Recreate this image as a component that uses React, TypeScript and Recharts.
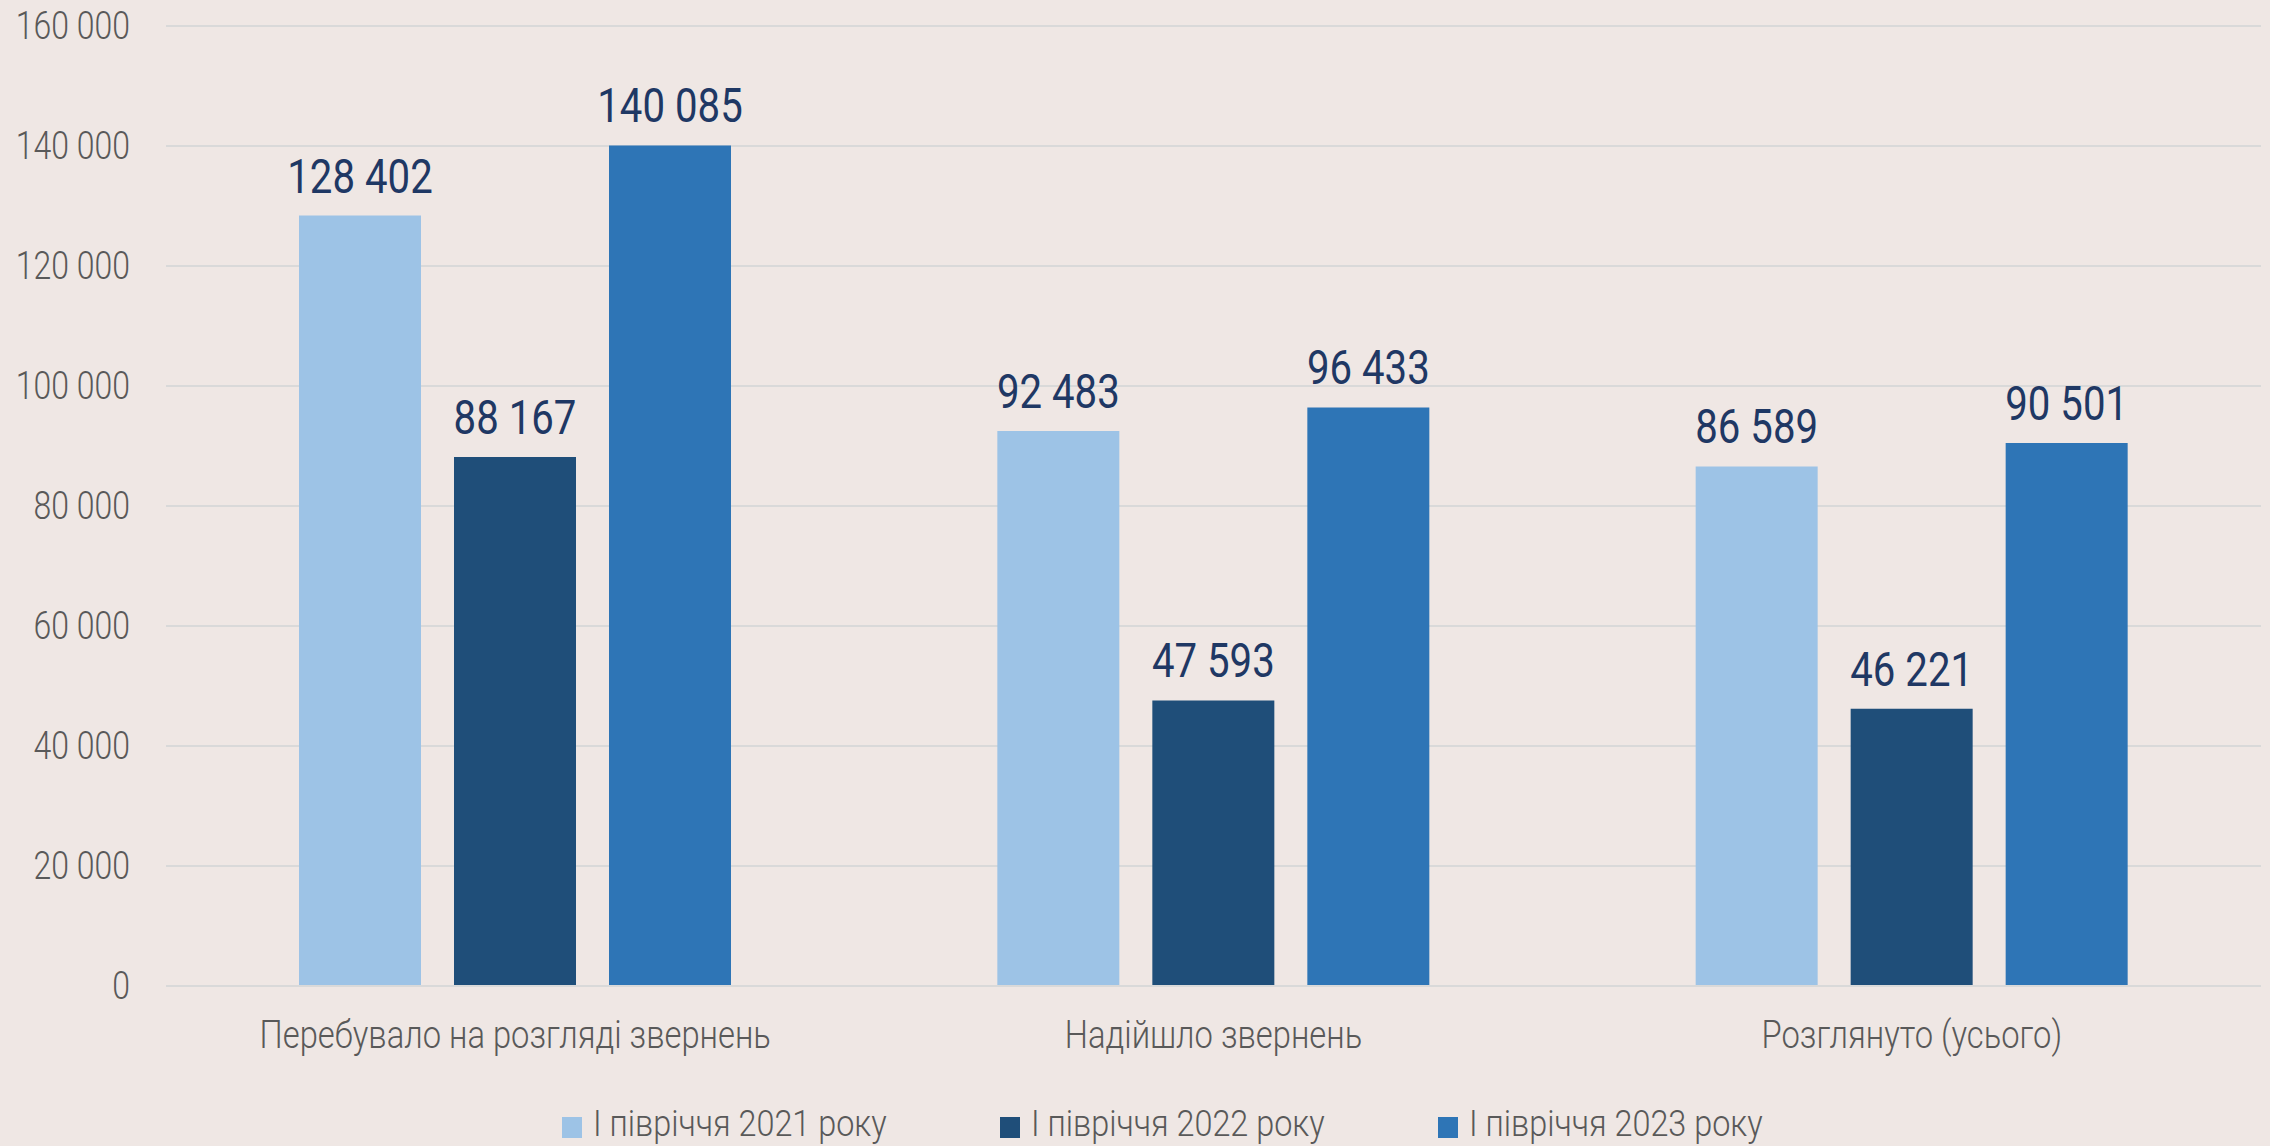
import { BarChart, Bar, XAxis, YAxis, CartesianGrid, Legend, LabelList } from 'recharts';

const categories = ['Перебувало на розгляді звернень', 'Надійшло звернень', 'Розглянуто (усього)'];
const h2021 = [128402, 92483, 86589];
const h2022 = [88167, 47593, 46221];
const h2023 = [140085, 96433, 90501];
const yTicks = [0, 20000, 40000, 60000, 80000, 100000, 120000, 140000, 160000];

const seriesNames = ['І півріччя 2021 року', 'І півріччя 2022 року', 'І півріччя 2023 року'];
const seriesColors = ['#9DC3E6', '#1F4E79', '#2E75B6'];

const data = categories.map((name, i) => ({
  name,
  h2021: h2021[i],
  h2022: h2022[i],
  h2023: h2023[i],
}));

const fmt = (v: number) => String(v).replace(/\B(?=(\d{3})+(?!\d))/g, ' ');

const FONT = 'Roboto, "Noto Sans", sans-serif';

const YTick = (props: any) => {
  const { x, y, payload } = props;
  return (
    <text
      transform={`translate(${x},${y}) scale(0.82,1)`}
      textAnchor="end"
      dominantBaseline="central"
      fill="#595959"
      fontSize={39}
      fontWeight={300}
      fontFamily={FONT}
    >
      {fmt(payload.value)}
    </text>
  );
};

const XTick = (props: any) => {
  const { x, y, payload } = props;
  return (
    <text
      transform={`translate(${x},${y}) scale(0.84,1)`}
      textAnchor="middle"
      fill="#595959"
      fontSize={39}
      fontWeight={300}
      fontFamily={FONT}
    >
      {payload.value}
    </text>
  );
};

const BarLabel = (props: any) => {
  const { x, y, width, value } = props;
  return (
    <text
      transform={`translate(${x + width / 2},${y - 23}) scale(0.82,1)`}
      textAnchor="middle"
      fill="#1F3864"
      fontSize={49}
      fontFamily={FONT}
    >
      {fmt(value)}
    </text>
  );
};

const LegendContent = () => (
  <div style={{ position: 'relative', width: 2270, height: 46 }}>
    {seriesNames.map((name, i) => (
      <div key={name} style={{ position: 'absolute', left: 562 + i * 438, top: 0, height: 46 }}>
        <div style={{ position: 'absolute', left: 0, top: 16, width: 20, height: 21, background: seriesColors[i] }} />
        <div
          style={{
            position: 'absolute',
            left: 31,
            top: 0,
            whiteSpace: 'nowrap',
            fontFamily: FONT,
            fontSize: 36,
            fontWeight: 300,
            lineHeight: '46px',
            color: '#595959',
            transform: 'scaleX(0.9)',
            transformOrigin: 'left center',
          }}
        >
          {name}
        </div>
      </div>
    ))}
  </div>
);

const App = () => {
  return (
    <div style={{ position: 'absolute', left: 0, top: 0, width: 2270, height: 1146, background: '#EFE7E4' }}>
      <BarChart
        width={2270}
        height={1146}
        data={data}
        barSize={122}
        barGap={33}
        margin={{ top: 26, right: 9, left: 0, bottom: 0 }}
      >
        <CartesianGrid vertical={false} stroke="#D9D9D9" strokeWidth={2} />
        <XAxis
          dataKey="name"
          height={160}
          axisLine={{ stroke: '#D9D9D9', strokeWidth: 2 }}
          tickLine={false}
          tickSize={0}
          tickMargin={62}
          tick={<XTick />}
        />
        <YAxis
          width={166}
          domain={[0, 160000]}
          ticks={yTicks}
          axisLine={false}
          tickLine={false}
          tickSize={0}
          tickMargin={36}
          tick={<YTick />}
        />
        <Legend
          layout="horizontal"
          verticalAlign="middle"
          wrapperStyle={{ top: 1101, left: 0, width: 2270 }}
          content={<LegendContent />}
        />
        <Bar dataKey="h2021" name={seriesNames[0]} fill={seriesColors[0]} isAnimationActive={false}>
          <LabelList dataKey="h2021" content={<BarLabel />} />
        </Bar>
        <Bar dataKey="h2022" name={seriesNames[1]} fill={seriesColors[1]} isAnimationActive={false}>
          <LabelList dataKey="h2022" content={<BarLabel />} />
        </Bar>
        <Bar dataKey="h2023" name={seriesNames[2]} fill={seriesColors[2]} isAnimationActive={false}>
          <LabelList dataKey="h2023" content={<BarLabel />} />
        </Bar>
      </BarChart>
    </div>
  );
};

export default App;
